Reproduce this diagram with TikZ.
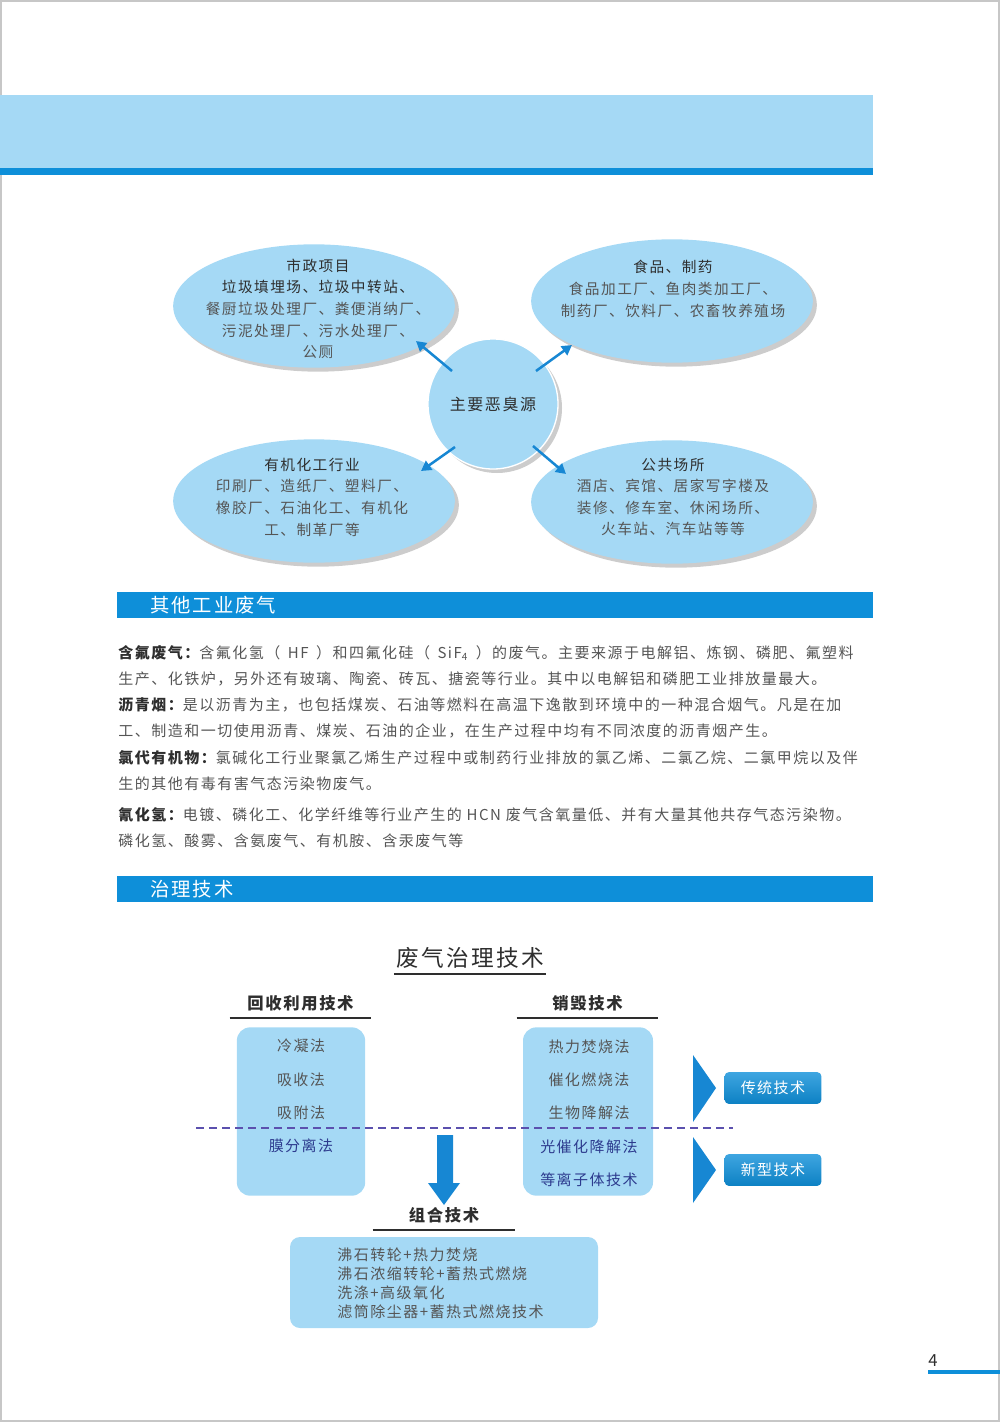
\documentclass[tikz,border=0pt]{standalone}
\usepackage{fontspec}
\setmainfont{Noto Sans CJK SC}
\newfontfamily\widecjk[LetterSpace=10]{Noto Sans CJK SC}
\usetikzlibrary{arrows.meta,shapes.geometric,shadows,positioning}

\definecolor{skyfill}{HTML}{A5D9F5}
\definecolor{barblue}{HTML}{0E8FD9}
\definecolor{arrowblue}{HTML}{1787D3}
\definecolor{inkgray}{HTML}{555555}
\definecolor{inkdark}{HTML}{2E2E2E}
\definecolor{inknavy}{HTML}{2D3B8E}
\definecolor{dashpurple}{HTML}{5B50AE}

\newcommand\lab[1]{\textcolor{inkdark}{\bfseries #1}}

\begin{document}
\begin{tikzpicture}[
  x=0.6pt, y=-0.6pt,
  every node/.style={inner sep=0pt, text=inkgray, font=\widecjk\fontsize{9}{13}\selectfont},
  blob/.style={ellipse, fill=skyfill, minimum width=169pt, minimum height=74pt,
    drop shadow={shadow xshift=2.4pt, shadow yshift=-2.4pt, fill=black!20, opacity=1}},
  hub/.style={circle, fill=skyfill, draw=white, line width=0.8pt, minimum size=78pt,
    drop shadow={shadow xshift=2.4pt, shadow yshift=-2.4pt, fill=black!20, opacity=1},
    text=inkdark, font=\widecjk\fontsize{9.6}{11}\selectfont},
  blobtext/.style={align=center, font=\widecjk\fontsize{8.8}{13}\selectfont},
  srcarrow/.style={arrowblue, line width=1.5pt, -{Triangle[length=6pt,width=6.5pt]}},
  secbar/.style={anchor=west, fill=barblue, minimum height=16pt, text width=414pt,
    inner xsep=19.8pt, align=left, text=white, font=\widecjk\fontsize{11.6}{13}\selectfont},
  bodyline/.style={anchor=west},
  heading/.style={text=inkdark, minimum height=18pt, font=\widecjk\fontsize{9.8}{12}\selectfont\bfseries},
  rule/.style={inkdark, line width=1.2pt},
  techbox/.style={rounded corners=8pt, fill=skyfill, minimum width=77pt, minimum height=101pt},
  techtext/.style={align=center, font=\widecjk\fontsize{9}{20}\selectfont},
  techbtn/.style={rounded corners=2.4pt, top color=barblue!80!white, bottom color=barblue!90!black,
    minimum width=58pt, minimum height=19pt, text=white},
]
\useasboundingbox (0,0) rectangle (1000,1422);
\draw[black!22, line width=0.8pt] (1,1) rectangle (999,1421);

% top band
\fill[skyfill] (0,95) rectangle (873,168);
\fill[barblue] (0,168) rectangle (873,175);

% odour sources
\node[blob] (muni) at (314,306) {};
\node[blob] (food) at (672,301) {};
\node[blob] (chem) at (314,501) {};
\node[blob] (pub) at (672,502) {};
\node[hub] (src) at (493,404) {主要恶臭源};

\node[blobtext] (munitext) at (318,309) {\textcolor{inkdark}{市政项目}\\\textcolor{inkdark}{垃圾填埋场、垃圾中转站、}\\餐厨垃圾处理厂、粪便消纳厂、\\污泥处理厂、污水处理厂、\\公厕};
\node[blobtext] (foodtext) at (673,289) {\textcolor{inkdark}{食品、制药}\\食品加工厂、鱼肉类加工厂、\\制药厂、饮料厂、农畜牧养殖场};
\node[blobtext] (chemtext) at (312,497) {\textcolor{inkdark}{有机化工行业}\\印刷厂、造纸厂、塑料厂、\\橡胶厂、石油化工、有机化\\工、制革厂等};
\node[blobtext] (pubtext) at (673,497) {\textcolor{inkdark}{公共场所}\\酒店、宾馆、居家写字楼及\\装修、修车室、休闲场所、\\火车站、汽车站等等};

\draw[srcarrow] ([shift={(-41,-33)}]src.center) -- ([shift={(102,35)}]muni.center);
\draw[srcarrow] ([shift={(43,-33)}]src.center) -- ([shift={(-100,44)}]food.center);
\draw[srcarrow] ([shift={(-38,43)}]src.center) -- ([shift={(107,-30)}]chem.center);
\draw[srcarrow] ([shift={(40,42)}]src.center) -- ([shift={(-106,-28)}]pub.center);

% other industrial gases
\node[secbar] (other) at (117,605) {其他工业废气};
\node[bodyline] (l1) at (118,653) {\lab{含氟废气：}含氟化氢（\enspace HF\enspace ）和四氟化硅（\enspace SiF\textsubscript{4}\enspace ）的废气。主要来源于电解铝、炼钢、磷肥、氟塑料};
\node[bodyline] (l2) at (118,679) {生产、化铁炉，另外还有玻璃、陶瓷、砖瓦、搪瓷等行业。其中以电解铝和磷肥工业排放量最大。};
\node[bodyline] (l3) at (118,705) {\lab{沥青烟：}是以沥青为主，也包括煤炭、石油等燃料在高温下逸散到环境中的一种混合烟气。凡是在加};
\node[bodyline] (l4) at (118,731) {工、制造和一切使用沥青、煤炭、石油的企业，在生产过程中均有不同浓度的沥青烟产生。};
\node[bodyline] (l5) at (118,758) {\lab{氯代有机物：}氯碱化工行业聚氯乙烯生产过程中或制药行业排放的氯乙烯、二氯乙烷、二氯甲烷以及伴};
\node[bodyline] (l6) at (118,784) {生的其他有毒有害气态污染物废气。};
\node[bodyline] (l7) at (118,815) {\lab{氰化氢：}电镀、磷化工、化学纤维等行业产生的 HCN 废气含氧量低、并有大量其他共存气态污染物。};
\node[bodyline] (l8) at (118,841) {磷化氢、酸雾、含氨废气、有机胺、含汞废气等};

% treatment
\node[secbar] (treat) at (117,889) {治理技术};

\node[heading, minimum width=91pt, minimum height=19.2pt, font=\widecjk\fontsize{13.6}{15}\selectfont] (title) at (470,958) {废气治理技术};
\draw[rule] (title.south west) -- (title.south east);
\node[heading, minimum width=84.6pt] (rec) at (300.5,1003) {回收利用技术};
\draw[rule] (rec.south west) -- (rec.south east);
\node[heading, minimum width=84.6pt] (des) at (587.5,1003) {销毁技术};
\draw[rule] (des.south west) -- (des.south east);

\node[techbox] (recbox) at (301,1111.5) {};
\node[techbox, minimum width=78pt] (desbox) at (588,1111.5) {};
\node[techtext] (rectext) at (301,1096) {冷凝法\\吸收法\\吸附法\\\textcolor{inknavy}{膜分离法}};
\node[techtext] (destext) at (589,1113) {热力焚烧法\\催化燃烧法\\生物降解法\\\textcolor{inknavy}{光催化降解法}\\\textcolor{inknavy}{等离子体技术}};

\draw[dashpurple, line width=0.9pt, dash pattern=on 4.8pt off 3pt] (196,1128) -- (733,1128);

\fill[arrowblue] (437,1135) -- (453,1135) -- (453,1183) -- (460,1183) -- (444,1205)
  -- (428,1183) -- (437,1183) -- cycle;

\fill[arrowblue] (693,1055) -- (716,1088) -- (693,1122) -- cycle;
\fill[arrowblue] (693,1137) -- (716,1170) -- (693,1203) -- cycle;
\node[techbtn] (trad) at (773,1088) {传统技术};
\node[techbtn] (new) at (773,1170) {新型技术};

\node[heading, minimum width=85.2pt] (comb) at (444,1215) {组合技术};
\draw[rule] (comb.south west) -- (comb.south east);
\node[techbox, minimum width=184.8pt, minimum height=54.6pt, rounded corners=6pt] (combbox) at (444,1282.5) {};
\node[anchor=west, align=left, font=\widecjk\fontsize{9}{11.4}\selectfont] (combtext) at (337,1283) {沸石转轮+热力焚烧\\沸石浓缩转轮+蓄热式燃烧\\洗涤+高级氧化\\滤筒除尘器+蓄热式燃烧技术};

% page number
\node[text=inkdark, font=\fontsize{10}{12}\selectfont] (page) at (933,1361) {4};
\fill[barblue] (928,1370) rectangle (1000,1374);
\end{tikzpicture}
\end{document}
